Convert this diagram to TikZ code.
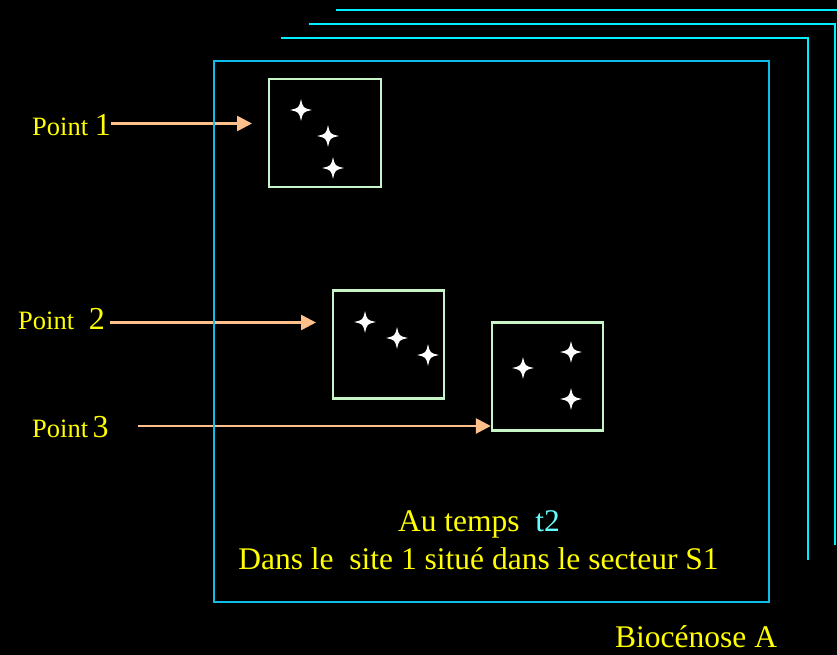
\documentclass[tikz,border=0pt]{standalone}
\usepackage{fontspec}
\setmainfont{Liberation Serif}
\usetikzlibrary{arrows.meta}
\definecolor{txtyellow}{HTML}{FFFF00}
\definecolor{tcyan}{HTML}{66FFFF}
\definecolor{outercyan}{HTML}{00F0FF}
\definecolor{maincyan}{HTML}{10BCE8}
\definecolor{peach}{HTML}{FFC08C}
\definecolor{boxgreen}{HTML}{C8F5C8}
\tikzset{
  outerline/.style={draw=outercyan, line width=2.6pt},
  mainrect/.style={draw=maincyan, line width=2.6pt},
  sitebox/.style={draw=boxgreen, line width=2.4pt, inner sep=0pt, minimum width=111pt, minimum height=108pt},
  pointer/.style={draw=peach, line width=2.6pt, -{Triangle[length=15pt,width=15pt]}},
  lbl/.style={text=txtyellow, inner sep=0pt, anchor=base west, font=\fontsize{26.5}{30}\selectfont},
  caption/.style={text=txtyellow, inner sep=0pt, anchor=base, font=\fontsize{31.5}{36}\selectfont},
  sparkle/.pic={\fill[white] (0,-11) .. controls (2,-2) .. (11,0) .. controls (2,2) .. (0,11) .. controls (-2,2) .. (-11,0) .. controls (-2,-2) .. (0,-11) -- cycle;}
}
\newcommand{\bigdig}[1]{{\fontsize{32}{36}\selectfont #1}}
\begin{document}
\begin{tikzpicture}[x=1pt,y=-1pt]
\fill[black] (0,0) rectangle (837,655);
\useasboundingbox (0,0) rectangle (837,655);

% outer stacked frames
\draw[outerline] (336,10) -- (837,10);
\draw[outerline] (309,24) -- (835,24) -- (835,545);
\draw[outerline] (281,38) -- (808,38) -- (808,560);

% site boxes
\node[sitebox, minimum width=112pt] (b1) at (325,133) {};
\node[sitebox] (b2) at (388.5,344.5) {};
\node[sitebox] (b3) at (547.5,376.5) {};

% sparkles
\pic at (301,110) {sparkle};
\pic at (328,136) {sparkle};
\pic at (333,168) {sparkle};
\pic at (365,322) {sparkle};
\pic at (397,338) {sparkle};
\pic at (428,355) {sparkle};
\pic at (523,368) {sparkle};
\pic at (571,352) {sparkle};
\pic at (571,399) {sparkle};

% labels
\node[lbl] (p1) at (32,136) {Point \bigdig{1}};
\node[lbl] (p2) at (18,329) {Point \bigdig{\ 2}};
\node[lbl] (p3) at (32,437) {Point\,\bigdig{3}};

% arrows
\coordinate (a1s) at (111,123.5);
\coordinate (a1e) at (252,123.5);
\coordinate (a2s) at (110,322.5);
\coordinate (a2e) at (316,322.5);
\coordinate (a3s) at (138,426);
\coordinate (a3e) at (b3.west |- a3s);
\draw[pointer] (a1s) -- (a1e);
\draw[pointer] (a2s) -- (a2e);
\draw[pointer] (a3s) -- (a3e);

% main frame
\draw[mainrect] (214,61) rectangle (769,602);

% captions
\node[caption] (c1) at (479,531) {Au temps\ \ \textcolor{tcyan}{t2}};
\node[caption] (c2) at (478.5,569) {Dans le\ \ site 1 situé dans le secteur S1};
\node[caption, anchor=base west] (c3) at (615,647) {Biocénose A};
\end{tikzpicture}
\end{document}
